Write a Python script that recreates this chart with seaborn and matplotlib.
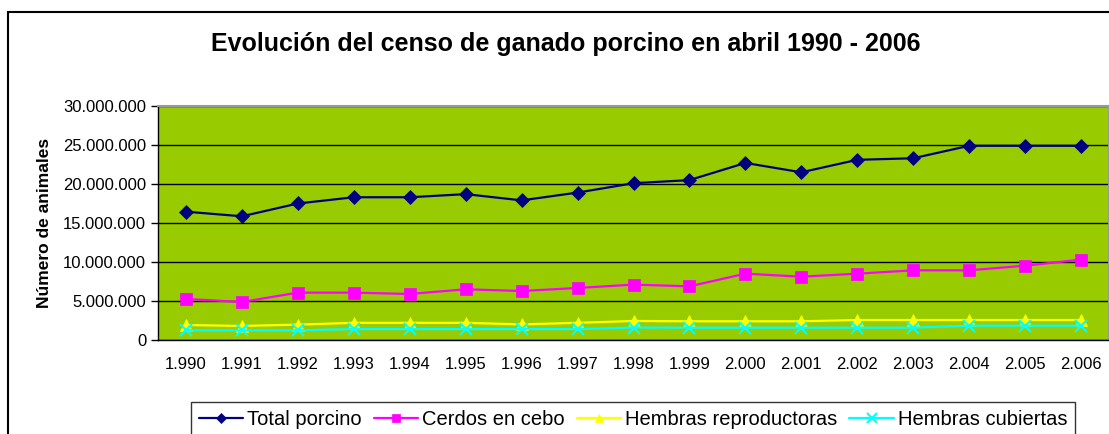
import seaborn as sns
import matplotlib.pyplot as plt
import pandas as pd
from matplotlib.patches import Rectangle
from matplotlib.ticker import FuncFormatter

# Census values (animals)
years = ['1.990', '1.991', '1.992', '1.993', '1.994', '1.995', '1.996', '1.997', '1.998',
         '1.999', '2.000', '2.001', '2.002', '2.003', '2.004', '2.005', '2.006']
total_porcino = [16450000, 15860000, 17500000, 18300000, 18300000, 18700000, 17900000, 18900000,
                 20100000, 20500000, 22700000, 21500000, 23100000, 23300000, 24900000, 24900000, 24900000]
cerdos_cebo = [5260000, 4870000, 6070000, 6070000, 5900000, 6500000, 6280000, 6670000,
               7100000, 6880000, 8500000, 8120000, 8500000, 8930000, 8930000, 9530000, 10300000]
hembras_repro = [1920000, 1800000, 1970000, 2200000, 2200000, 2200000, 2000000, 2200000,
                 2440000, 2400000, 2400000, 2400000, 2560000, 2560000, 2560000, 2560000, 2560000]
hembras_cub = [1240000, 1240000, 1240000, 1400000, 1400000, 1400000, 1400000, 1400000,
               1600000, 1580000, 1580000, 1580000, 1580000, 1580000, 1840000, 1840000, 1840000]

series_names = ['Total porcino', 'Cerdos en cebo', 'Hembras reproductoras', 'Hembras cubiertas']
series_values = [total_porcino, cerdos_cebo, hembras_repro, hembras_cub]
colors = ['#000080', '#FF00FF', '#FFFF00', '#00FFFF']
markers = ['D', 's', '^', 'x']
msizes = [7, 8, 8, 9]

rows = []
for name, vals in zip(series_names, series_values):
    for y, v in zip(years, vals):
        rows.append({'Año': y, 'Serie': name, 'Animales': v})
df = pd.DataFrame(rows)

sns.set_style('white')
plt.rcParams['font.family'] = ['Liberation Sans', 'DejaVu Sans']
plt.rcParams['text.color'] = 'black'
plt.rcParams['axes.labelcolor'] = 'black'
plt.rcParams['xtick.color'] = 'black'
plt.rcParams['ytick.color'] = 'black'

fig = plt.figure(figsize=(11.09, 4.34), dpi=100)
ax = fig.add_axes([158 / 1109, 1 - 340 / 434, 1 - 158 / 1109, 234 / 434])

for name, c, m, ms in zip(series_names, colors, markers, msizes):
    sub = df[df['Serie'] == name]
    sns.lineplot(data=sub, x='Año', y='Animales', ax=ax, color=c, marker=m,
                 markersize=ms, markeredgecolor=c, markeredgewidth=1.5 if m == 'x' else 0.5,
                 linewidth=1.6, label=name, sort=False, legend=False)

ax.set_facecolor('#99CC00')
ax.set_xlim(-0.5, len(years) - 0.5)
ax.set_ylim(0, 30000000)
ax.set_yticks(range(0, 30000001, 5000000))
ax.yaxis.set_major_formatter(FuncFormatter(lambda v, p: f'{int(v):,}'.replace(',', '.')))
ax.grid(axis='y', color='black', linewidth=1)
ax.set_axisbelow(True)

ax.set_xticks(range(len(years)))
ax.set_xticklabels(years)
ax.set_xticks([i - 0.5 for i in range(len(years) + 1)], minor=True)
ax.tick_params(axis='x', which='major', length=0, pad=12, labelsize=12)
ax.tick_params(axis='x', which='minor', length=5, width=1, color='black', direction='out')
ax.tick_params(axis='y', length=5, width=1, color='black', direction='out', labelsize=12, left=True)

for s in ['top', 'right']:
    ax.spines[s].set_color('#999999')
    ax.spines[s].set_linewidth(1.5)
for s in ['left', 'bottom']:
    ax.spines[s].set_color('black')
    ax.spines[s].set_linewidth(1)

ax.set_xlabel('')
ax.set_ylabel('Número de animales', fontsize=12.5, fontweight='bold', labelpad=8)

fig.suptitle('Evolución del censo de ganado porcino en abril 1990 - 2006',
             x=566 / 1109, y=1 - 44 / 434, va='center', fontsize=18, fontweight='bold')

# outer chart border
fig.patches.append(Rectangle((8 / 1109, -0.1), 1.2, 0.1 + (1 - 12 / 434), transform=fig.transFigure,
                             fill=False, edgecolor='black', linewidth=1.5))

handles, labels = ax.get_legend_handles_labels()
leg = fig.legend(handles, labels, loc='upper center', ncol=4, bbox_to_anchor=(633 / 1109, 1 - 392 / 434),
                 frameon=True, fancybox=False, edgecolor='black', fontsize=14.5, handlelength=2.2,
                 handletextpad=0.2, columnspacing=0.6, borderpad=0.4, markerscale=0.8)
leg.get_frame().set_linewidth(1)

fig.savefig('out.png', dpi=100)
